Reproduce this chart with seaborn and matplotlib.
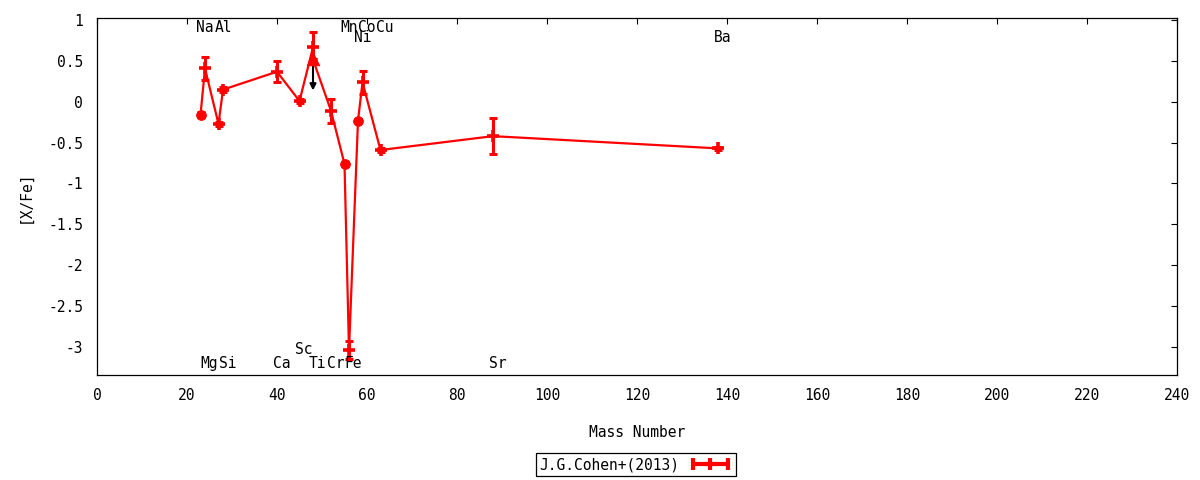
import pandas as pd
import matplotlib
matplotlib.use('Agg')
import matplotlib.pyplot as plt
import seaborn as sns
from matplotlib.lines import Line2D
from matplotlib.legend_handler import HandlerLine2D, HandlerTuple

# ── data ─────────────────────────────────────────────────────────────────────
elements = ['Na', 'Mg', 'Al', 'Si', 'Ca', 'Sc', 'Ti', 'Ti', 'Cr', 'Mn',
            'Fe', 'Ni', 'Co', 'Cu', 'Sr', 'Ba']
mass = [23, 24, 27, 28, 40, 45, 48, 48, 52, 55, 56, 58, 59, 63, 88, 138]
xfe = [-0.16, 0.41, -0.27, 0.15, 0.37, 0.01, 0.67, 0.52, -0.11, -0.76,
       -3.04, -0.23, 0.24, -0.59, -0.42, -0.57]
err = [0.03, 0.14, 0.02, 0.03, 0.13, 0.02, 0.19, 0.0, 0.15, 0.02,
       0.11, 0.02, 0.14, 0.02, 0.22, 0.02]
kind = ['circle', 'plus', 'plus', 'plus', 'plus', 'plus', 'plus', 'upper',
        'plus', 'circle', 'plus', 'circle', 'plus', 'plus', 'plus', 'plus']

# element labels: which row each name sits in
label_row = {'Na': 'top', 'Al': 'top', 'Mn': 'top', 'Co': 'top', 'Cu': 'top',
             'Ni': 'top2', 'Ba': 'top2',
             'Mg': 'bot', 'Si': 'bot', 'Ca': 'bot', 'Ti': 'bot', 'Cr': 'bot',
             'Fe': 'bot', 'Sr': 'bot', 'Sc': 'bot2'}
row_y = {'top': 0.91, 'top2': 0.79, 'bot': -3.21, 'bot2': -3.04}

df = pd.DataFrame({'element': elements, 'mass': mass, 'xfe': xfe,
                   'err': err, 'kind': kind})

# ── plot ─────────────────────────────────────────────────────────────────────
sns.set_style('white')
plt.rcParams['font.family'] = ['DejaVu Sans Mono']
plt.rcParams['font.size'] = 10
plt.rcParams['text.color'] = 'black'
plt.rcParams['axes.labelcolor'] = 'black'

fig = plt.figure(figsize=(12, 4.8), dpi=100)
ax = fig.add_axes([97 / 1200, 105 / 480, 1080 / 1200, 357.3 / 480])

red = '#ff0000'
sns.lineplot(data=df, x='mass', y='xfe', sort=False, estimator=None,
             color=red, lw=1.6, ax=ax, zorder=2)
ax.errorbar(df['mass'], df['xfe'], yerr=df['err'], fmt='none', ecolor=red,
            elinewidth=2.2, capsize=3, capthick=2.2, zorder=3)

pl = df[df['kind'] == 'plus']
ax.plot(pl['mass'], pl['xfe'], ls='none', marker='+', ms=8, mew=2.6,
        color=red, zorder=4)
ci = df[df['kind'] == 'circle']
sns.scatterplot(data=ci, x='mass', y='xfe', marker='o', s=50, color=red,
                edgecolor=red, ax=ax, zorder=4)
ul = df[df['kind'] == 'upper']
for _, r in ul.iterrows():
    ax.annotate('', xy=(r['mass'], r['xfe'] - 0.38), xytext=(r['mass'], r['xfe']),
                arrowprops=dict(arrowstyle='-|>', color='black', lw=1.5,
                                mutation_scale=9, shrinkA=0, shrinkB=0),
                zorder=3.5)
sns.scatterplot(data=ul, x='mass', y='xfe', marker='^', s=80, color=red,
                edgecolor=red, ax=ax, zorder=5)

# element names
seen = df.drop_duplicates('element')
for _, r in seen.iterrows():
    ax.text(r['mass'] + 1, row_y[label_row[r['element']]], r['element'],
            ha='center', va='center', fontsize=10.5, color='black')

# axes styling (gnuplot look)
ax.set_xlim(0, 240)
ax.set_ylim(-3.348, 1.032)
ax.set_xticks(range(0, 241, 20))
ax.set_yticks([1, 0.5, 0, -0.5, -1, -1.5, -2, -2.5, -3])
ax.set_yticklabels(['1', '0.5', '0', '-0.5', '-1', '-1.5', '-2', '-2.5', '-3'])
ax.tick_params(direction='in', length=4, width=0.8, top=True, right=True,
               labelsize=10.5, colors='black')
ax.tick_params(axis='x', pad=9)
ax.tick_params(axis='y', pad=10)
for s in ax.spines.values():
    s.set_edgecolor('black')
    s.set_linewidth(0.9)
ax.set_xlabel('Mass Number', fontsize=10.5, color='black')
ax.set_ylabel('[X/Fe]', fontsize=10.5, color='black')
ax.xaxis.set_label_coords(0.5, -0.14)
ax.yaxis.set_label_coords(-0.06, 0.5)

# legend: label then errorbar-line sample (caps at ends, cross in middle)
caps = Line2D([0], [0], color=red, lw=3, marker='|', ms=9, mew=3)
cross = Line2D([0], [0], color=red, lw=0, marker='+', ms=9, mew=3)
leg = fig.legend([(caps, cross)], ['J.G.Cohen+(2013)'],
                 handler_map={caps: HandlerLine2D(numpoints=2),
                              cross: HandlerLine2D(numpoints=1),
                              tuple: HandlerTuple(ndivide=1)},
                 loc='center', bbox_to_anchor=(0.53, 0.032), markerfirst=False,
                 fancybox=False, framealpha=1, edgecolor='black',
                 fontsize=10.5, handlelength=3.0, borderpad=0.25,
                 handletextpad=0.6, borderaxespad=0)
leg.get_frame().set_linewidth(0.9)
for t in leg.get_texts():
    t.set_color('black')

fig.savefig('out.png', dpi=100, facecolor='white')
